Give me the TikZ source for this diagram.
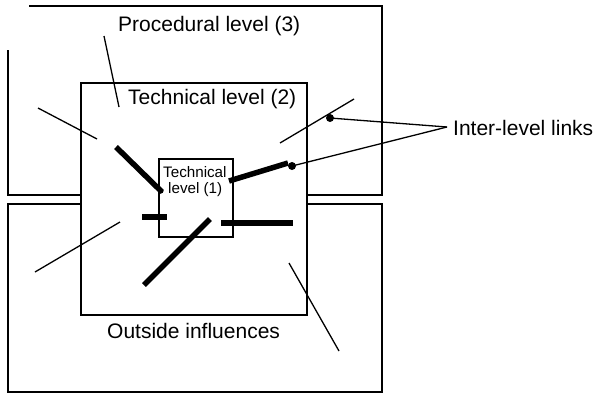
\documentclass[tikz,border=0pt]{standalone}
\usepackage{fontspec}
\setmainfont{Liberation Sans}
\begin{document}
\begin{tikzpicture}[x=1pt,y=-1pt,
  frame/.style={line width=1.8pt},
  thinline/.style={line width=1.3pt},
  heavy/.style={line width=5.5pt},
  linkdot/.style={circle,fill=black,inner sep=0pt,minimum size=#1},
  bigtext/.style={inner sep=0pt,anchor=base west,font=\fontsize{21}{25}\selectfont},
  smalltext/.style={inner sep=0pt,anchor=base west,font=\fontsize{15.2}{17}\selectfont}]
\useasboundingbox (0,0) rectangle (596,394);

% procedural level frame (open at the upper left)
\draw[frame] (8,50) -- (8,195) -- (81,195);
\draw[frame] (307,195) -- (382,195) -- (382,6) -- (29,6);
% outside influences frame
\draw[frame] (81,204) -- (8,204) -- (8,392) -- (382,392) -- (382,204) -- (307,204);
% technical level (2) and (1)
\node[frame,draw,rectangle,minimum width=226pt,minimum height=232pt,inner sep=0pt] (tech2box) at (194,199) {};
\node[frame,draw,rectangle,minimum width=74pt,minimum height=78pt,inner sep=0pt] (tech1box) at (196,198) {};

% labels
\node[bigtext] (proc) at (118,31) {Procedural level (3)};
\node[bigtext] (tech2) at (128,104) {Technical level (2)};
\node[bigtext] (outside) at (107,338) {Outside influences};
\node[bigtext] (links) at (453,135) {Inter-level links};
\node[smalltext] (tech1a) at (163,177) {Technical};
\node[smalltext] (tech1b) at (168,193) {level (1)};

% thin links
\draw[thinline] (104,36) -- (119,107);
\draw[thinline] (38,108) -- (97,139);
\draw[thinline] (35,272) -- (120,222);
\draw[thinline] (289,263) -- (339,351);
\draw[thinline] (280,143) -- (354,99);

% heavy links
\draw[heavy] (116,147) -- (162,192);
\draw[heavy] (142,217) -- (167,217);
\draw[heavy] (144,285) -- (210,219);
\draw[heavy] (221,223) -- (293,223);
\draw[heavy] (229,181) -- (288,163);

% dots marking the inter-level links
\node[linkdot=8pt] (dotA) at (330,118) {};
\node[linkdot=8pt] (dotB) at (292,166) {};
\node[linkdot=5pt] (dotC) at (161,191) {};
\coordinate (hub) at (447,127);
\draw[thinline] (dotA.center) -- (hub);
\draw[thinline] (dotB.center) -- (hub);
\end{tikzpicture}
\end{document}
